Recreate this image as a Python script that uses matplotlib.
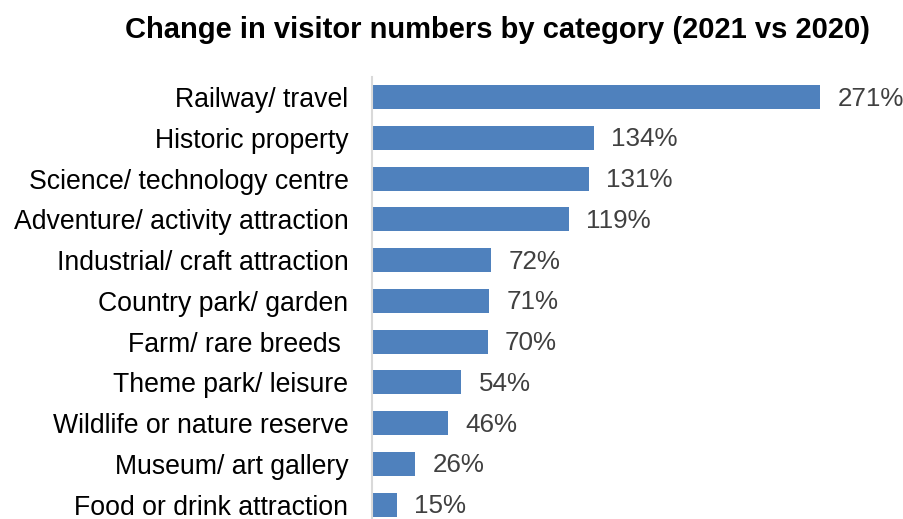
import matplotlib.pyplot as plt

# --- data ---
categories = [
    "Railway/ travel",
    "Historic property",
    "Science/ technology centre",
    "Adventure/ activity attraction",
    "Industrial/ craft attraction",
    "Country park/ garden",
    "Farm/ rare breeds ",
    "Theme park/ leisure",
    "Wildlife or nature reserve",
    "Museum/ art gallery",
    "Food or drink attraction",
]
change_pct = [271, 134, 131, 119, 72, 71, 70, 54, 46, 26, 15]

plt.rcParams['font.family'] = ['Liberation Sans', 'DejaVu Sans']

fig = plt.figure(figsize=(9.04, 5.19), dpi=100)
ax = fig.add_axes([0.4115, 0.0, 0.5487, 0.852])

pos = list(range(len(categories)))
ax.barh(pos, change_pct, height=0.59, color='#4F81BD', edgecolor='none')

# value labels
for y, v in zip(pos, change_pct):
    ax.annotate(f"{v}%", xy=(v, y), xytext=(12.5, -1), textcoords='offset points',
                va='center', ha='left', fontsize=18.7, color='#404040')

ax.set_xlim(0, 300)
ax.set_ylim(10.35, -0.5)
ax.set_yticks(pos)
ax.set_yticklabels(categories, fontsize=19.2, color='black')
ax.tick_params(axis='y', length=0, pad=17)
ax.set_xticks([])

for side in ['top', 'right', 'bottom']:
    ax.spines[side].set_visible(False)
ax.spines['left'].set_color('#D9D9D9')
ax.spines['left'].set_linewidth(1.5)

fig.text(0.5504, 0.942, "Change in visitor numbers by category (2021 vs 2020)",
         ha='center', va='center', fontsize=21, fontweight='bold')

fig.savefig("out.png", dpi=100)
